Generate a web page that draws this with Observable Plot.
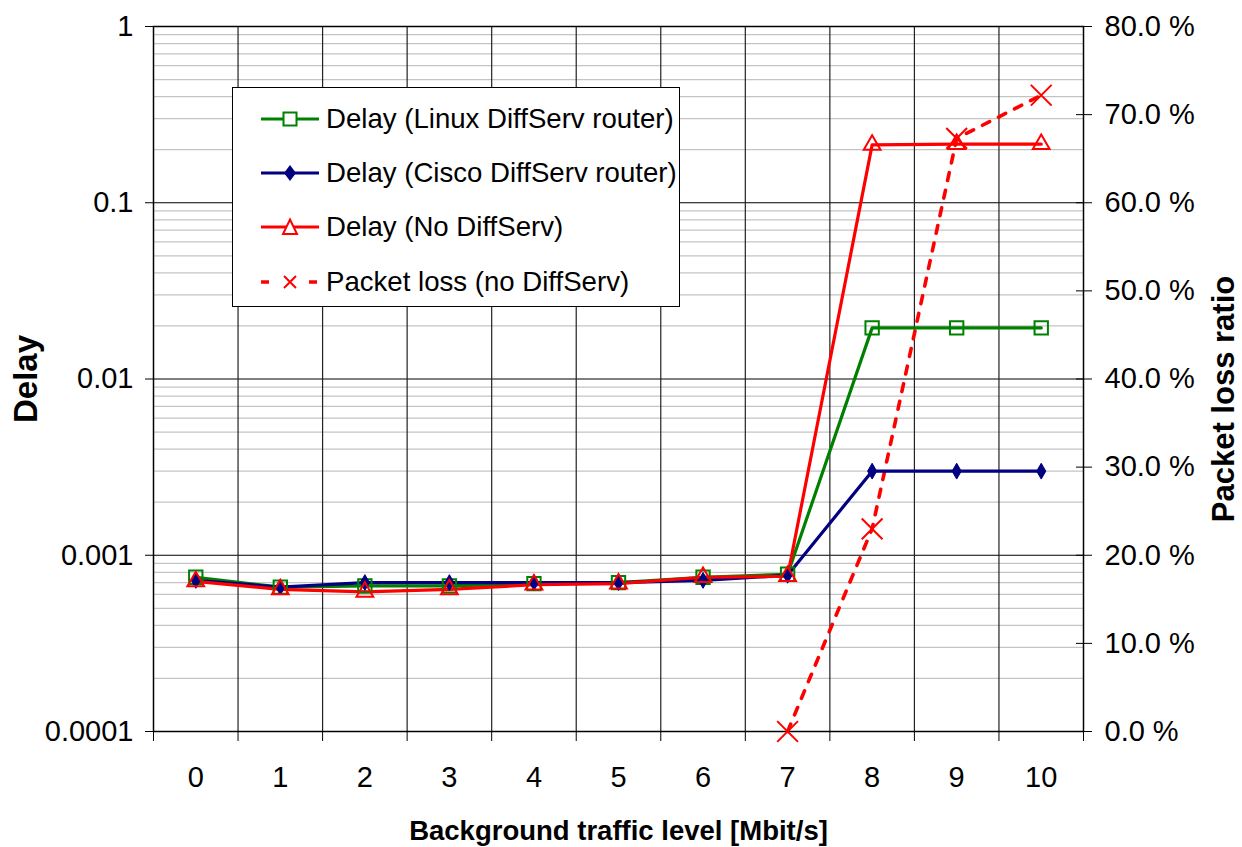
<!DOCTYPE html>
<html>
<head>
<meta charset="utf-8">
<script src="https://cdn.jsdelivr.net/npm/d3@7"></script>
<script src="https://cdn.jsdelivr.net/npm/@observablehq/plot@0.6"></script>
<style>
  html, body { margin: 0; padding: 0; background: white; }
  #wrap { position: relative; width: 1242px; height: 847px; font-family: "Liberation Sans", Arial, sans-serif; }
  #legend { position: absolute; left: 232px; top: 87px; width: 446px; height: 218px; border: 1.5px solid black; background: white; }
  .row { position: absolute; left: 28px; height: 40px; display: flex; align-items: center; font-size: 27.6px; color: black; white-space: nowrap; }
  .row svg { margin-right: 5px; }
</style>
</head>
<body>
<div id="wrap"></div>
<script>
// ---- data ----
const categories = [0, 1, 2, 3, 4, 5, 6, 7, 8, 9, 10];
const delayLinux = [0.00075, 0.00066, 0.00067, 0.00067, 0.00069, 0.00070, 0.00075, 0.00078, 0.0195, 0.0195, 0.0195];
const delayCisco = [0.00072, 0.00066, 0.00070, 0.00070, 0.00070, 0.00070, 0.00072, 0.00077, 0.0030, 0.0030, 0.0030];
const delayNoDS  = [0.00071, 0.00064, 0.00062, 0.00064, 0.00068, 0.00069, 0.00075, 0.00076, 0.213, 0.215, 0.215];
const lossNoDS   = [null, null, null, null, null, null, null, 0.0, 23.0, 67.3, 72.2];
const leftTicks = [0.0001, 0.001, 0.01, 0.1, 1];
const leftTickLabels = ["0.0001", "0.001", "0.01", "0.1", "1"];
const rightTicks = [0, 10, 20, 30, 40, 50, 60, 70, 80];
const rightTickLabels = ["0.0 %", "10.0 %", "20.0 %", "30.0 %", "40.0 %", "50.0 %", "60.0 %", "70.0 %", "80.0 %"];
const seriesNames = ["Delay (Linux DiffServ router)", "Delay (Cisco DiffServ router)", "Delay (No DiffServ)", "Packet loss (no DiffServ)"];
const xTitle = "Background traffic level [Mbit/s]";
const yTitle = "Delay";
const y2Title = "Packet loss ratio";

// ---- derived ----
const lossMax = 80;
const toLeft = p => 1e-4 * Math.pow(10, p / lossMax * 4); // map % (right axis) onto the left log scale
const minorTicks = [];
for (const d of [1e-4, 1e-3, 1e-2, 1e-1]) for (let k = 2; k <= 9; k++) minorTicks.push(d * k);
const boundaries = d3.range(categories.length - 1).map(i => categories[i] + 0.5);
const allBoundaries = [categories[0] - 0.5, ...boundaries, categories[categories.length - 1] + 0.5];

const linux = categories.map((c, i) => ({x: c, y: delayLinux[i]}));
const cisco = categories.map((c, i) => ({x: c, y: delayCisco[i]}));
const nods = categories.map((c, i) => ({x: c, y: delayNoDS[i]}));
const loss = categories.map((c, i) => ({x: c, p: lossNoDS[i]})).filter(d => d.p != null).map(d => ({x: d.x, y: toLeft(d.p)}));
const rightAxis = rightTicks.map((p, i) => ({y: toLeft(p), label: rightTickLabels[i]}));

const GREEN = "#008000", NAVY = "#000080", RED = "#ff0000";

const chart = Plot.plot({
  width: 1242,
  height: 847,
  marginLeft: 153,
  marginRight: 159,
  marginTop: 26,
  marginBottom: 116,
  style: {fontFamily: "'Liberation Sans', Arial, sans-serif", fontSize: "29px", background: "white", color: "black", overflow: "visible"},
  x: {type: "linear", domain: [categories[0] - 0.5, categories[categories.length - 1] + 0.5]},
  y: {type: "log", domain: [1e-4, 1]},
  marks: [
    Plot.ruleY(minorTicks, {stroke: "#c4c4c4", strokeWidth: 1.3}),
    Plot.ruleY(leftTicks, {stroke: "black", strokeWidth: 1.2}),
    Plot.ruleX(boundaries, {stroke: "#222", strokeWidth: 1.2}),
    Plot.frame({stroke: "black", strokeWidth: 1.5}),
    // left axis
    Plot.axisY({anchor: "left", ticks: leftTicks, tickSize: 8, tickPadding: 12, tickFormat: d => leftTickLabels[leftTicks.indexOf(d)], label: null, fontSize: 29}),
    // right axis: crossing ticks + labels
    Plot.axisY({anchor: "right", ticks: rightAxis.map(d => d.y), tickSize: 16, dx: -8, tickFormat: () => "", label: null}),
    Plot.text(rightAxis, {y: "y", text: "label", frameAnchor: "right", dx: 21, textAnchor: "start", fontSize: 29, fill: "black"}),
    // x axis
    Plot.axisX({ticks: allBoundaries, tickSize: 10, tickFormat: () => "", label: null}),
    Plot.axisX({ticks: categories, tickSize: 0, tickPadding: 35, tickFormat: d => String(d), label: null, fontSize: 29}),
    // series
    Plot.line(loss, {x: "x", y: "y", stroke: RED, strokeWidth: 3.6, strokeDasharray: "8,10"}),
    Plot.dot(loss, {x: "x", y: "y", symbol: "times", r: 9.5, stroke: RED, strokeWidth: 2}),
    Plot.line(linux, {x: "x", y: "y", stroke: GREEN, strokeWidth: 3.2}),
    Plot.line(cisco, {x: "x", y: "y", stroke: NAVY, strokeWidth: 3.2}),
    Plot.line(nods, {x: "x", y: "y", stroke: RED, strokeWidth: 3.2}),
    Plot.dot(linux, {x: "x", y: "y", symbol: "square2", r: 8.5, stroke: GREEN, strokeWidth: 2, fill: "none"}),
    Plot.dot(cisco, {x: "x", y: "y", symbol: "diamond", r: 4.8, fill: NAVY, stroke: NAVY, strokeWidth: 1}),
    Plot.dot(nods, {x: "x", y: "y", symbol: "triangle2", r: 8, stroke: RED, strokeWidth: 2, fill: "none"}),
    // titles
    Plot.text([yTitle], {frameAnchor: "left", dx: -127, rotate: -90, textAnchor: "middle", lineAnchor: "middle", fontWeight: "bold", fontSize: 33, fill: "black"}),
    Plot.text([y2Title], {frameAnchor: "right", dx: 141, dy: 20, rotate: -90, textAnchor: "middle", lineAnchor: "middle", fontWeight: "bold", fontSize: 31, fill: "black"}),
    Plot.text([xTitle], {frameAnchor: "bottom", dy: 100, textAnchor: "middle", lineAnchor: "middle", fontWeight: "bold", fontSize: 27.5, fill: "black"})
  ]
});
const wrap = document.getElementById("wrap");
wrap.appendChild(chart);

// ---- legend (HTML overlay inside plot area) ----
const legend = document.createElement("div");
legend.id = "legend";
const swatches = [
  `<line x1="0" y1="12" x2="58" y2="12" stroke="${GREEN}" stroke-width="3"/><rect x="22.5" y="5.5" width="13" height="13" fill="white" stroke="${GREEN}" stroke-width="2"/>`,
  `<line x1="0" y1="12" x2="58" y2="12" stroke="${NAVY}" stroke-width="3"/><path d="M29,4 L35,12 L29,20 L23,12 Z" fill="${NAVY}"/>`,
  `<line x1="0" y1="12" x2="58" y2="12" stroke="${RED}" stroke-width="3"/><path d="M29,4.5 L36,19 L22,19 Z" fill="white" stroke="${RED}" stroke-width="2"/>`,
  `<line x1="0" y1="12" x2="8" y2="12" stroke="${RED}" stroke-width="3.5"/><line x1="48" y1="12" x2="56" y2="12" stroke="${RED}" stroke-width="3.5"/><path d="M23,6 L35,18 M35,6 L23,18" stroke="${RED}" stroke-width="2"/>`
];
const rowCenters = [31, 85, 139, 194];
seriesNames.forEach((name, i) => {
  const row = document.createElement("div");
  row.className = "row";
  row.style.top = (rowCenters[i] - 20) + "px";
  row.innerHTML = `<svg width="60" height="24">${swatches[i]}</svg><span>${name}</span>`;
  legend.appendChild(row);
});
wrap.appendChild(legend);
</script>
</body>
</html>
